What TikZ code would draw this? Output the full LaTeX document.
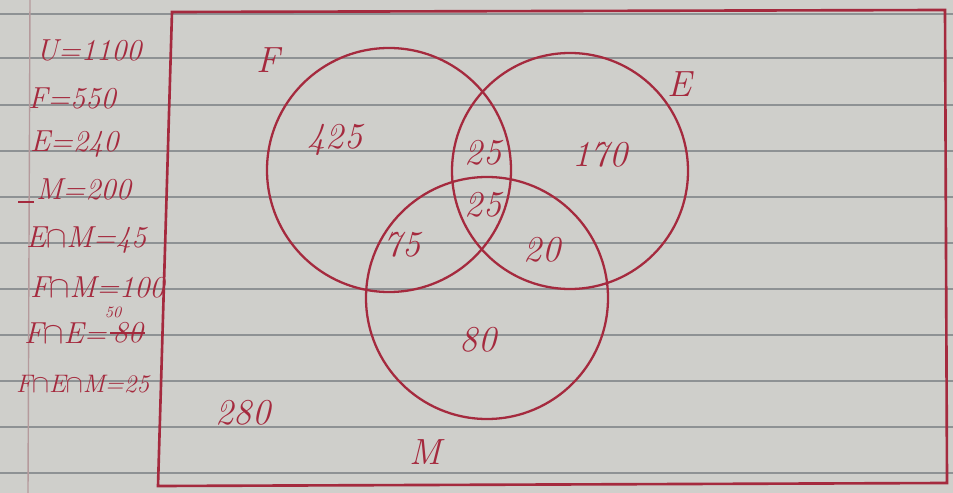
\documentclass[tikz,border=0pt]{standalone}
\usepackage{tikz}
\usepackage{xcolor}
\usetikzlibrary{calc,positioning}
\definecolor{cInk}{HTML}{A52A3E}
\definecolor{cPaper}{HTML}{CFCFCB}
\definecolor{cRule}{HTML}{8E9294}
\definecolor{cMargin}{HTML}{B59A9C}
\tikzset{
  set/.style   ={draw=cInk,line width=1.3pt},
  frame/.style ={draw=cInk,line width=1.5pt},
  rule/.style  ={draw=cRule,line width=0.6pt},
  num/.style   ={text=cInk,font=\huge\itshape,inner sep=1pt},
  given/.style ={text=cInk,font=\LARGE\itshape,inner sep=1pt,anchor=west},
}
\begin{document}
\begin{tikzpicture}[x=0.02cm,y=-0.02cm]
\fill[cPaper] (0,0) rectangle (953,493);
\useasboundingbox (0,0) rectangle (953,493);

% ruled paper
\foreach \yy in {14,58,105,151,197,243,289,335,381,427,473}
  \draw[rule] (0,\yy) -- (953,\yy);
\draw[draw=cMargin,line width=0.8pt] (30,0) -- (28,493);

% universe box
\coordinate (ul) at (172,12);
\coordinate (ur) at (945,10);
\coordinate (lr) at (947,483);
\coordinate (ll) at (158,486);
\draw[frame] (ul) -- (ur) -- (lr) -- (ll) -- cycle;

% given data
\node[given] (u)   at (34,50)  {U=1100};
\node[given] (f)   at (26,98)  {F=550};
\node[given] (e)   at (28,144) {E=240};
\node[given] (m)   at (34,189) {M=200};
\draw[cInk,line width=1pt] (m.south west) -- ++(-16,0);
\node[given] (em)  at (24,240) {E$\cap$M=45};
\node[given] (fm)  at (28,287) {F$\cap$M=100};
\node[given] (fe)  at (22,333) {F$\cap$E=};
\node[given,right=1pt of fe] (feold) {80};
\node[text=cInk,font=\small\itshape,inner sep=0pt,anchor=south west] (fenew) at ($(feold.north west)+(-6,-2)$) {50};
\draw[cInk,line width=1pt] (feold.west) -- (feold.east);
\node[given,font=\Large\itshape] (fem) at (14,384) {F$\cap$E$\cap$M=25};

% the three sets
\draw[set] (389,170) circle[radius=122];
\draw[set] (570,171) circle[radius=118];
\draw[set] (487,298) circle[radius=121];

% set names
\node[num] (nf) at (268,60)  {F};
\node[num] (ne) at (680,84)  {E};
\node[num] (nm) at (425,452) {M};

% region counts
\node[num] (onlyf)  at (335,140) {425};
\node[num] (fonly)  at (483,153) {25};
\node[num] (onlye)  at (600,155) {170};
\node[num] (all)    at (483,205) {25};
\node[num] (fmonly) at (402,245) {75};
\node[num] (emonly) at (542,250) {20};
\node[num] (onlym)  at (478,340) {80};
\node[num] (none)   at (243,413) {280};
\end{tikzpicture}
\end{document}
